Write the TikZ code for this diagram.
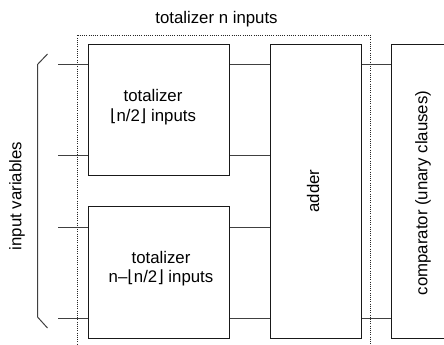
\documentclass[tikz,border=0pt]{standalone}
\usepackage{fontspec}
\setmainfont{Liberation Sans}
\newfontfamily\dvfont{DejaVu Sans}
\newcommand{\lfl}{{\dvfont\char"230A}}
\newcommand{\rfl}{{\dvfont\char"230B}}
\begin{document}
\begin{tikzpicture}[x=1pt,y=-1pt,
  box/.style={draw=black!90,line width=1pt,inner sep=0pt},
  wire/.style={draw=black!75,line width=1pt},
  txt/.style={font=\fontsize{16.8}{19.5}\selectfont,align=center,inner sep=0pt},
  dots/.style={draw=black!85,line width=1pt,dash pattern=on 1pt off 1.2pt}]
\useasboundingbox (0,0) rectangle (444,345);
\begin{scope}
\clip (0,0) rectangle (444,345);
% title and dotted frame
\node[txt] (title) at (216.5,19) {totalizer n inputs};
\draw[dots] (77.5,35.5) -- (370.5,35.5) -- (370.5,360);
\draw[dots] (77.5,35.5) -- (77.5,360);
% boxes
\node[box,minimum width=141pt,minimum height=131pt] (top) at (159,110) {};
\node[box,minimum width=141pt,minimum height=132pt] (bot) at (159,272.5) {};
\node[box,minimum width=91pt,minimum height=294pt] (adder) at (316,191.5) {};
\node[box,minimum width=72pt,minimum height=294pt] (comp) at (427.5,191.5) {};
% texts
\node[txt] (ttop) at (153,107) {totalizer\\\lfl n/2\rfl\ inputs};
\node[txt] (tbot) at (161,268.5) {totalizer\\n–\lfl n/2\rfl\ inputs};
\node[txt,rotate=90] (tadd) at (313,191) {adder};
\node[txt,rotate=90] (tcomp) at (423,193) {comparator (unary clauses)};
\node[txt,rotate=90] (tin) at (17,196) {input variables};
% inputs
\coordinate (i1) at (58,64.5);
\coordinate (i2) at (58,155.5);
\coordinate (i3) at (58,227.5);
\coordinate (i4) at (58,318.5);
\draw[wire] (i1) -- (i1 -| top.west);
\draw[wire] (i2) -- (i2 -| top.west);
\draw[wire] (i3) -- (i3 -| bot.west);
\draw[wire] (i4) -- (i4 -| bot.west);
% to adder
\draw[wire] (i1 -| top.east) -- (i1 -| adder.west);
\draw[wire] (i2 -| top.east) -- (i2 -| adder.west);
\draw[wire] (i3 -| bot.east) -- (i3 -| adder.west);
\draw[wire] (i4 -| bot.east) -- (i4 -| adder.west);
% to comparator
\draw[wire] (i1 -| adder.east) -- (i1 -| comp.west);
\draw[wire] (i4 -| adder.east) -- (i4 -| comp.west);
% brace
\coordinate (b1) at (47.5,54);
\coordinate (b2) at (37.5,64.5);
\coordinate (b3) at (37.5,317);
\coordinate (b4) at (47.5,328);
\draw[wire] (b1) -- (b2) -- (b3) -- (b4);
\end{scope}
\end{tikzpicture}
\end{document}
